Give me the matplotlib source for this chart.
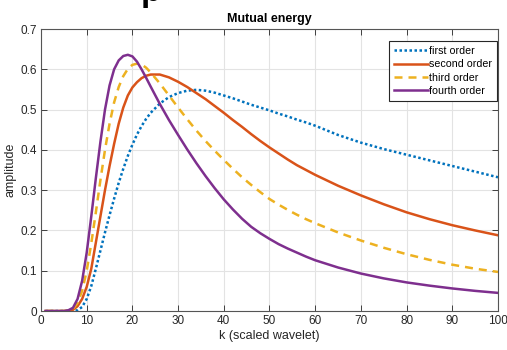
import matplotlib.pyplot as plt

plt.rcParams["font.family"] = ["Liberation Sans", "DejaVu Sans"]

# wavelet scale k (x axis)
k = [1, 5, 6, 7, 8, 9, 10, 11, 12, 13, 14, 15, 16, 17, 18, 19, 20, 21, 22, 23,
     24, 26, 28, 30, 32, 34, 36, 38, 40, 42, 44, 46, 48, 50, 52, 54, 56, 58,
     60, 65, 70, 75, 80, 85, 90, 95, 100]

first_order = [0, 0, 0, 0, 0.002, 0.01, 0.03, 0.062, 0.105, 0.15, 0.195,
               0.238, 0.279, 0.318, 0.353, 0.385, 0.413, 0.438, 0.459, 0.477,
               0.492, 0.515, 0.531, 0.541, 0.547, 0.549, 0.547, 0.542, 0.535,
               0.528, 0.52, 0.512, 0.505, 0.498, 0.49, 0.483, 0.475, 0.468,
               0.46, 0.437, 0.418, 0.402, 0.388, 0.374, 0.36, 0.346, 0.332]

second_order = [0, 0, 0, 0.003, 0.012, 0.03, 0.06, 0.105, 0.17, 0.235, 0.3,
                0.36, 0.415, 0.465, 0.505, 0.535, 0.555, 0.568, 0.578, 0.584,
                0.587, 0.587, 0.58, 0.569, 0.556, 0.541, 0.526, 0.509, 0.492,
                0.474, 0.457, 0.439, 0.422, 0.406, 0.391, 0.376, 0.362, 0.35,
                0.338, 0.311, 0.287, 0.265, 0.245, 0.228, 0.213, 0.2, 0.188]

third_order = [0, 0, 0.001, 0.005, 0.02, 0.05, 0.1, 0.168, 0.245, 0.325, 0.4,
               0.465, 0.518, 0.556, 0.583, 0.601, 0.611, 0.614, 0.612, 0.604,
               0.592, 0.565, 0.535, 0.505, 0.476, 0.448, 0.422, 0.398, 0.375,
               0.353, 0.332, 0.313, 0.295, 0.278, 0.264, 0.251, 0.239, 0.228,
               0.218, 0.195, 0.175, 0.157, 0.141, 0.127, 0.115, 0.105, 0.097]

fourth_order = [0, 0, 0.002, 0.008, 0.03, 0.075, 0.145, 0.235, 0.33, 0.42,
                0.5, 0.56, 0.6, 0.622, 0.633, 0.636, 0.632, 0.619, 0.6, 0.579,
                0.557, 0.514, 0.474, 0.437, 0.401, 0.367, 0.335, 0.305, 0.277,
                0.252, 0.229, 0.209, 0.193, 0.179, 0.166, 0.155, 0.145, 0.135,
                0.126, 0.108, 0.093, 0.081, 0.071, 0.063, 0.056, 0.05, 0.045]

x_ticks = list(range(0, 101, 10))
y_ticks = [0, 0.1, 0.2, 0.3, 0.4, 0.5, 0.6, 0.7]
y_tick_labels = ["0", "0.1", "0.2", "0.3", "0.4", "0.5", "0.6", "0.7"]

fig = plt.figure(figsize=(5.07, 3.5), dpi=100)
ax = fig.add_axes([0.0809, 0.1114, 0.9013, 0.8057])

lw = 1.8
ax.plot(k, first_order, color="#0072BD", linestyle=(0, (1, 1)), linewidth=lw,
        label="first order")
ax.plot(k, second_order, color="#D95319", linewidth=lw, label="second order")
ax.plot(k, third_order, color="#EDB120", linestyle=(0, (3.2, 2.4)),
        linewidth=lw, label="third order")
ax.plot(k, fourth_order, color="#7E2F8E", linewidth=lw, label="fourth order")

ax.set_xlim(0, 100)
ax.set_ylim(0, 0.7)
ax.set_xticks(x_ticks)
ax.set_yticks(y_ticks)
ax.set_yticklabels(y_tick_labels)
ax.grid(True, color="#e3e3e3", linewidth=0.8)
ax.set_axisbelow(True)
ax.tick_params(direction="in", top=True, right=True, length=4, width=0.6,
               colors="#262626", labelsize=8.5, pad=3)
for sp in ax.spines.values():
    sp.set_color("#555555")
    sp.set_linewidth(0.8)

ax.set_title("Mutual energy", fontsize=9, fontweight="bold", pad=5)
ax.set_xlabel("k (scaled wavelet)", fontsize=9, color="#262626", labelpad=2)
ax.set_ylabel("amplitude", fontsize=9, color="#262626", labelpad=3)

leg = ax.legend(loc="upper right", fontsize=7.7, handlelength=3.2,
                handletextpad=0.1, labelspacing=0.3, borderpad=0.45,
                fancybox=False, framealpha=1, borderaxespad=0.1,
                bbox_to_anchor=(1.0, 0.96))
leg.get_frame().set_edgecolor("#262626")
leg.get_frame().set_linewidth(0.8)

# cropped heading above the figure (only the descender shows)
fig.text(0.278, 1.0 - 1.0 / 350, "p", fontsize=24, fontweight="bold",
         va="baseline", ha="left")

fig.savefig("out.png", dpi=100)
